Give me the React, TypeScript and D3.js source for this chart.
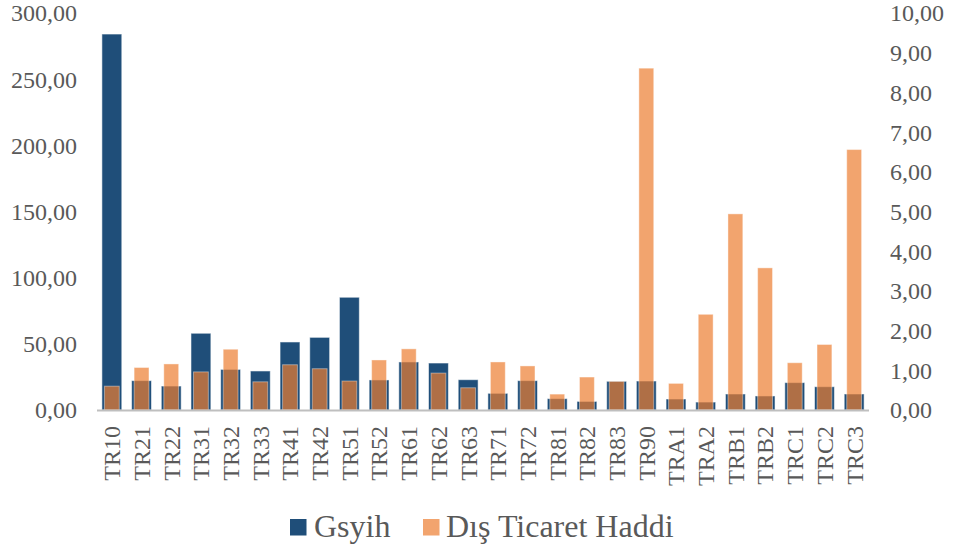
import React from "react";
import * as d3 from "d3";

const categories = ["TR10","TR21","TR22","TR31","TR32","TR33","TR41","TR42","TR51","TR52","TR61","TR62","TR63","TR71","TR72","TR81","TR82","TR83","TR90","TRA1","TRA2","TRB1","TRB2","TRC1","TRC2","TRC3"];
const gsyih = [284.1,22.2,18.1,58.0,30.7,29.5,51.4,54.9,85.2,22.7,36.3,35.5,22.9,12.6,22.2,8.6,6.5,21.7,21.9,8.3,6.0,12.1,10.6,20.7,17.6,12.1];
const disTicaret = [0.60,1.07,1.16,0.96,1.53,0.71,1.14,1.04,0.73,1.26,1.54,0.93,0.56,1.21,1.11,0.40,0.83,0.72,8.61,0.67,2.41,4.94,3.58,1.19,1.65,6.56];
const leftTicks = [0,50,100,150,200,250,300];
const rightTicks = [0,1,2,3,4,5,6,7,8,9,10];
const seriesNames = ["Gsyih","Dış Ticaret Haddi"];

const W = 953, H = 551;
const FONT = "Liberation Serif";
const TEXT = "#595959";
const BLUE = "#1F4E79";
const ORANGE = "#ED7D31";

const fmt = (v: number) => v.toFixed(2).replace(".", ",");

export default function App() {
  const x = d3.scaleBand<string>().domain(categories).range([97, 869]).paddingInner(0).paddingOuter(0);
  const yL = d3.scaleLinear().domain([0, 300]).range([410, 13]);
  const yR = d3.scaleLinear().domain([0, 10]).range([410, 13]);
  const bw = x.bandwidth();
  const blueW = bw * 0.67;
  const orangeW = bw * 0.5;
  const ts = { fontFamily: FONT };

  return (
    <svg width={W} height={H} style={{ position: "absolute", left: 0, top: 0, background: "#fff" }}>
      <rect x={0} y={0} width={W} height={H} fill="#fff" />
      {leftTicks.map((t) => (
        <text key={"l" + t} x={77} y={yL(t)} dy="0.35em" textAnchor="end" style={ts} fontSize={24} fill={TEXT}>
          {fmt(t)}
        </text>
      ))}
      {rightTicks.map((t) => (
        <text key={"r" + t} x={890} y={yR(t)} dy="0.35em" textAnchor="start" style={ts} fontSize={24} fill={TEXT}>
          {fmt(t)}
        </text>
      ))}
      {categories.map((c, i) => {
        const cx = (x(c) as number) + bw / 2;
        return (
          <rect key={"b" + c} x={cx - blueW / 2} y={yL(gsyih[i])} width={blueW} height={yL(0) - yL(gsyih[i])}
            fill={BLUE} stroke="#ffffff" strokeOpacity={0.55} strokeWidth={1} />
        );
      })}
      {categories.map((c, i) => {
        const cx = (x(c) as number) + bw / 2;
        return (
          <rect key={"o" + c} x={cx - orangeW / 2} y={yR(disTicaret[i])} width={orangeW} height={yR(0) - yR(disTicaret[i])}
            fill={ORANGE} fillOpacity={0.7} stroke="#ffffff" strokeOpacity={0.4} strokeWidth={1} />
        );
      })}
      <line x1={97} x2={869} y1={410.5} y2={410.5} stroke="#BFBFBF" strokeWidth={2} />
      {categories.map((c) => {
        const cx = (x(c) as number) + bw / 2;
        return (
          <text key={"t" + c} transform={`translate(${cx},426) rotate(-90)`} dy="0.35em" textAnchor="end"
            style={ts} fontSize={24} fill={TEXT}>
            {c}
          </text>
        );
      })}
      <rect x={290} y={519} width={16.5} height={16.5} fill={BLUE} />
      <text x={314} y={537} style={ts} fontSize={32} fill={TEXT}>{seriesNames[0]}</text>
      <rect x={423} y={519} width={16.5} height={16.5} fill={ORANGE} fillOpacity={0.7} />
      <text x={446} y={537} style={ts} fontSize={32} fill={TEXT}>{seriesNames[1]}</text>
    </svg>
  );
}
